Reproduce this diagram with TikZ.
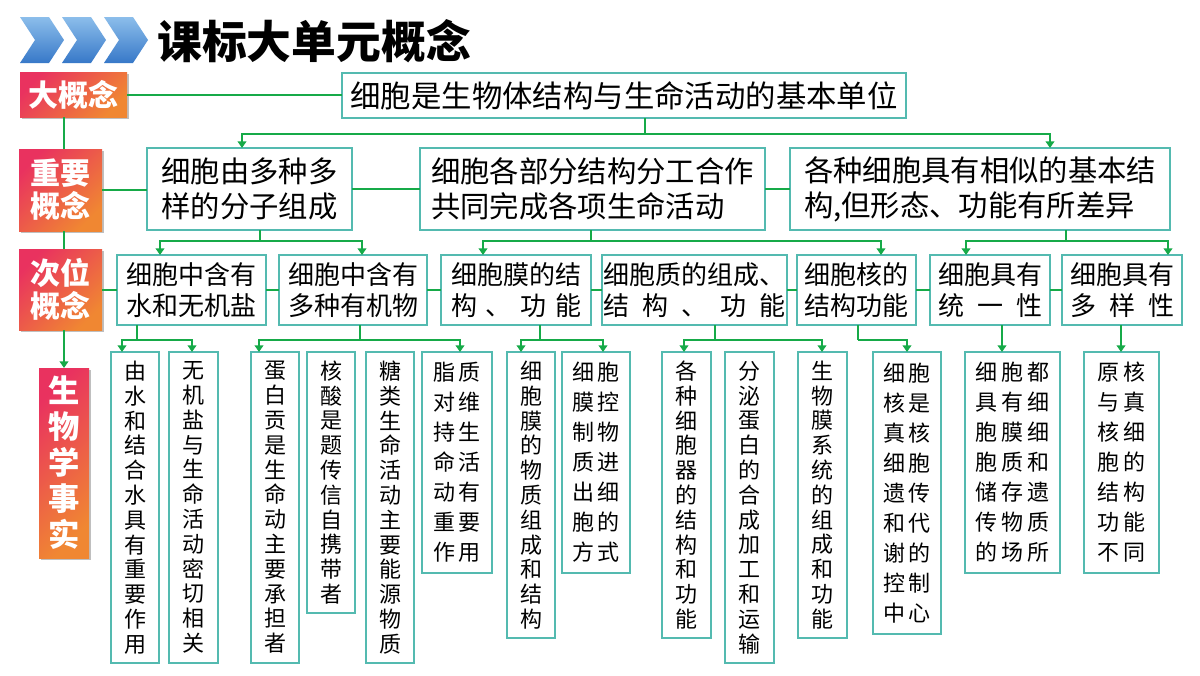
\documentclass[tikz,border=0pt]{standalone}
\usepackage{fontspec}
\usetikzlibrary{arrows.meta,shadows}
\newfontfamily\cjk{Noto Sans CJK SC}
\IfFontExistsTF{FandolKai-Regular.otf}{\newfontfamily\kai{FandolKai-Regular.otf}}{\newfontfamily\kai{Noto Sans CJK SC}}
\definecolor{boxc}{RGB}{84,186,176}
\definecolor{linec}{RGB}{22,170,72}
\definecolor{lblA}{RGB}{233,50,95}
\definecolor{lblB}{RGB}{240,135,50}
\definecolor{chevA}{RGB}{140,190,235}
\definecolor{chevB}{RGB}{55,120,200}
\newcommand\kg{\hspace{3pt}}
% #1 style, #2 x1, #3 y1, #4 x2, #5 y2, #6 name, #7 text
\newcommand\bx[7]{\node[#1,minimum width={(#4-#2)*0.75pt},minimum height={(#5-#3)*0.75pt}] (#6) at ({(#2+#4)/2},{(#3+#5)/2}) {#7};}
\tikzset{
  box/.style={draw=boxc, line width=1.1pt, fill=white, inner sep=0pt, outer sep=0pt},
  lbl/.style={top color=lblA, bottom color=lblB, shading angle=45, inner sep=0pt, outer sep=0pt,
    text=white, align=center, drop shadow={shadow xshift=1.5pt, shadow yshift=-1.5pt, fill=black, opacity=0.25}},
  lvone/.style={box, font=\cjk\fontsize{22.8}{26}\selectfont},
  lvtwo/.style={box, align=left, font=\cjk\fontsize{22}{26.25}\selectfont},
  lvthree/.style={box, align=center, font=\cjk\fontsize{19.5}{23.25}\selectfont},
  factone/.style={box, align=center, font=\kai\fontsize{16.5}{18.6}\selectfont},
  factmulti/.style={box, align=center, font=\kai\fontsize{16.5}{22.5}\selectfont},
  link/.style={draw=linec, line width=1.5pt},
  arr/.style={link, -{Triangle[width=6.5pt,length=5pt]}},
  chev/.style={top color=chevA, bottom color=chevB, draw=none}
}
\begin{document}
\begin{tikzpicture}[x=0.75pt,y=-0.75pt]
\useasboundingbox (0,0) rectangle (1200,675);
\fill[white] (0,0) rectangle (1200,675);
% chevrons
\foreach \x in {20,62,104}{
  \shade[chev] (\x,17) -- ++(29,0) -- ++(15,23) -- ++(-15,23) -- ++(-29,0) -- ++(15,-23) -- cycle;
}
\node[anchor=west, inner sep=0pt, font=\cjk\bfseries\fontsize{33.6}{36}\selectfont] (title) at (157,41) {课标大单元概念};
% labels
\bx{lbl, font=\cjk\bfseries\fontsize{22.5}{24}\selectfont}{20}{72}{127}{117}{L1}{大概念}
\bx{lbl, font=\cjk\bfseries\fontsize{22.5}{24.75}\selectfont}{19}{149}{102}{231}{L2}{重要\\概念}
\bx{lbl, font=\cjk\bfseries\fontsize{22.5}{24.75}\selectfont}{19}{249}{102}{330}{L3}{次位\\概念}
\bx{lbl, font=\cjk\bfseries\fontsize{23.5}{27}\selectfont}{39}{368}{89}{558}{L4}{生\\物\\学\\事\\实}
% level 1
\bx{lvone}{342}{73}{906}{118}{M}{细胞是生物体结构与生命活动的基本单位}
% level 2
\bx{lvtwo}{147}{148}{352}{230}{A}{细胞由多种多\\样的分子组成}
\bx{lvtwo}{420}{148}{765}{230}{B}{细胞各部分结构分工合作\\共同完成各项生命活动}
\bx{lvtwo}{790}{148}{1170}{230}{C}{各种细胞具有相似的基本结\\构,但形态、功能有所差异}
% level 3
\bx{lvthree}{117}{255}{266}{325}{N1}{细胞中含有\\水和无机盐}
\bx{lvthree}{279}{255}{427}{325}{N2}{细胞中含有\\多种有机物}
\bx{lvthree}{441}{255}{591}{325}{N3}{\makebox[5em][s]{细胞膜的结}\\\makebox[5em][s]{构\hfil 、\hfil 功\hfil 能}}
\bx{lvthree}{602}{255}{787}{325}{N4}{\makebox[7em][s]{细胞质的组成、}\\\makebox[7em][s]{结\hfil 构\hfil 、\hfil 功\hfil 能}}
\bx{lvthree}{797}{255}{916}{325}{N5}{细胞核的\\结构功能}
\bx{lvthree}{930}{255}{1050}{325}{N6}{\makebox[4em][s]{细胞具有}\\\makebox[4em][s]{统\hfil 一\hfil 性}}
\bx{lvthree}{1062}{255}{1182}{325}{N7}{\makebox[4em][s]{细胞具有}\\\makebox[4em][s]{多\hfil 样\hfil 性}}
% level 4
\bx{factone}{111}{352}{159}{663}{F1}{由\\水\\和\\结\\合\\水\\具\\有\\重\\要\\作\\用}
\bx{factone}{169}{352}{218}{663}{F2}{无\\机\\盐\\与\\生\\命\\活\\动\\密\\切\\相\\关}
\bx{factone}{251}{352}{299}{663}{F3}{蛋\\白\\贡\\是\\生\\命\\动\\主\\要\\承\\担\\者}
\bx{factone}{307}{352}{355}{613}{F4}{核\\酸\\是\\题\\传\\信\\自\\携\\带\\者}
\bx{factone}{366}{352}{414}{663}{F5}{糖\\类\\生\\命\\活\\动\\主\\要\\能\\源\\物\\质}
\bx{factmulti}{422}{352}{492}{573}{F6}{脂\kg 质\\对\kg 维\\持\kg 生\\命\kg 活\\动\kg 有\\重\kg 要\\作\kg 用}
\bx{factone}{507}{352}{555}{638}{F7}{细\\胞\\膜\\的\\物\\质\\组\\成\\和\\结\\构}
\bx{factmulti}{562}{352}{630}{573}{F8}{细\kg 胞\\膜\kg 控\\制\kg 物\\质\kg 进\\出\kg 细\\胞\kg 的\\方\kg 式}
\bx{factone}{662}{352}{711}{638}{F9}{各\\种\\细\\胞\\器\\的\\结\\构\\和\\功\\能}
\bx{factone}{725}{352}{774}{663}{F10}{分\\泌\\蛋\\白\\的\\合\\成\\加\\工\\和\\运\\输}
\bx{factone}{798}{352}{847}{638}{F11}{生\\物\\膜\\系\\统\\的\\组\\成\\和\\功\\能}
\bx{factmulti}{873}{352}{941}{634}{F12}{细\kg 胞\\核\kg 是\\真\kg 核\\细\kg 胞\\遗\kg 传\\和\kg 代\\谢\kg 的\\控\kg 制\\中\kg 心}
\bx{factmulti}{965}{352}{1060}{573}{F13}{细\kg 胞\kg 都\\具\kg 有\kg 细\\胞\kg 膜\kg 细\\胞\kg 质\kg 和\\储\kg 存\kg 遗\\传\kg 物\kg 质\\的\kg 场\kg 所}
\bx{factmulti}{1084}{352}{1159}{573}{F14}{原\kg 核\\与\kg 真\\核\kg 细\\胞\kg 的\\结\kg 构\\功\kg 能\\不\kg 同}
% left spine
\draw[link] (L1.south -| L4.north) -- (L2.north -| L4.north);
\draw[link] (L2.south -| L4.north) -- (L3.north -| L4.north);
\draw[arr] (L3.south -| L4.north) -- (L4.north);
% horizontal links
\draw[link] (L1.east) -- (L1.east -| M.west);
\draw[link] (L2.east) -- (L2.east -| A.west);
\draw[link] (A.east) -- (A.east -| B.west);
\draw[link] (B.east) -- (B.east -| C.west);
\draw[link] (L3.east) -- (L3.east -| N1.west);
\draw[link] (N1.east) -- (N1.east -| N2.west);
\draw[link] (N2.east) -- (N2.east -| N3.west);
\draw[link] (N3.east) -- (N3.east -| N4.west);
\draw[link] (N4.east) -- (N4.east -| N5.west);
\draw[link] (N5.east) -- (N5.east -| N6.west);
\draw[link] (N6.east) -- (N6.east -| N7.west);
% level 1 -> level 2
\coordinate (jM) at (645,134);
\draw[link] (jM |- M.south) -- (jM);
\draw[arr] (jM) -| (242,0 |- A.north);
\draw[arr] (jM) -| (1050,0 |- C.north);
% level 2 -> level 3
\coordinate (jA) at (260,241);
\draw[link] (jA |- A.south) -- (jA);
\draw[arr] (jA) -| (160,0 |- N1.north);
\draw[arr] (jA) -| (362,0 |- N2.north);
\coordinate (jB) at (591,241);
\draw[link] (jB |- B.south) -- (jB);
\draw[arr] (jB) -| (483,0 |- N3.north);
\draw[arr] (jB) -| (881,0 |- N5.north);
\coordinate (jC) at (1066,241);
\draw[link] (jC |- C.south) -- (jC);
\draw[arr] (jC) -| (966,0 |- N6.north);
\draw[arr] (jC) -| (1168,0 |- N7.north);
% level 3 -> level 4
\coordinate (j1) at (137,340);
\draw[link] (j1 |- N1.south) -- (j1);
\draw[arr] (j1) -| (122,0 |- F1.north);
\draw[arr] (j1) -| (192,0 |- F2.north);
\coordinate (j2) at (360,340);
\draw[link] (j2 |- N2.south) -- (j2);
\draw[arr] (j2) -| (259,0 |- F3.north);
\draw[arr] (j2) -| (460,0 |- F6.north);
\coordinate (j3) at (540,340);
\draw[link] (j3 |- N3.south) -- (j3);
\draw[arr] (j3) -| (521,0 |- F7.north);
\draw[arr] (j3) -| (603,0 |- F8.north);
\coordinate (j4) at (715,340);
\draw[link] (j4 |- N4.south) -- (j4);
\draw[arr] (j4) -| (684,0 |- F9.north);
\draw[arr] (j4) -| (822,0 |- F11.north);
\coordinate (j5) at (858,340);
\draw[link] (j5 |- N5.south) -- (j5);
\draw[arr] (j5) -| (907,0 |- F12.north);
\draw[arr] (1002,0 |- N6.south) -- (1002,0 |- F13.north);
\draw[arr] (1121,0 |- N7.south) -- (1121,0 |- F14.north);
\end{tikzpicture}
\end{document}
